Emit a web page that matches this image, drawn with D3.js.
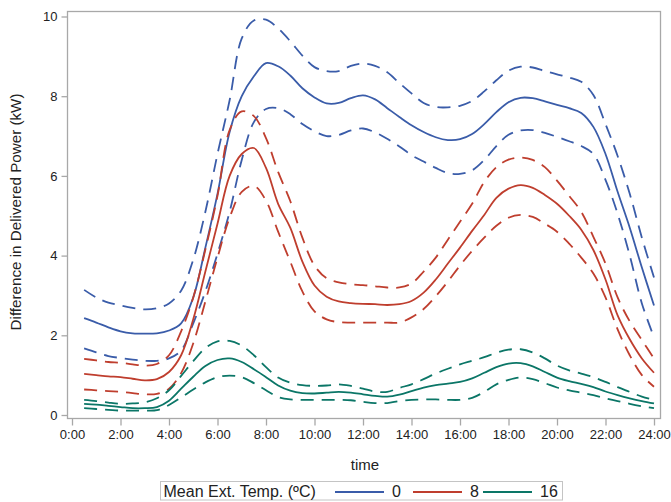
<!DOCTYPE html>
<html>
<head>
<meta charset="utf-8">
<script src="https://cdn.jsdelivr.net/npm/d3@7"></script>
<style>
  body { margin: 0; background: #fff; }
  text { font-family: "Liberation Sans", Arial, sans-serif; fill: #222; }
</style>
</head>
<body>
<div id="chart"></div>
<script>
// half-hour grid, 0:30 .. 24:00
const hours = d3.range(0.5, 24.01, 0.5);

// mean ext. temp 0 ºC
const blueMean = [2.43, 2.32, 2.2, 2.1, 2.05, 2.04, 2.05, 2.12, 2.3, 2.95, 4.2, 5.55, 7.1, 8.0, 8.5, 8.83, 8.75, 8.52, 8.2, 7.97, 7.82, 7.83, 7.95, 8.02, 7.92, 7.7, 7.48, 7.27, 7.1, 6.97, 6.9, 6.92, 7.05, 7.3, 7.6, 7.85, 7.96, 7.95, 7.87, 7.78, 7.7, 7.58, 7.23, 6.55, 5.6, 4.7, 3.7, 2.75];
const blueUpper = [3.14, 2.95, 2.82, 2.75, 2.69, 2.65, 2.68, 2.8, 3.12, 3.9, 5.1, 6.55, 7.9, 9.45, 9.9, 9.92, 9.7, 9.38, 9.02, 8.73, 8.63, 8.63, 8.76, 8.82, 8.76, 8.6, 8.33, 8.07, 7.83, 7.73, 7.72, 7.76, 7.88, 8.12, 8.4, 8.64, 8.74, 8.72, 8.63, 8.55, 8.47, 8.36, 8.03, 7.3, 6.5, 5.55, 4.45, 3.45];
const blueLower = [1.67, 1.57, 1.48, 1.43, 1.39, 1.36, 1.36, 1.42, 1.62, 2.3, 3.1, 4.05, 5.1, 6.4, 7.35, 7.68, 7.7, 7.55, 7.3, 7.12, 7.0, 7.03, 7.14, 7.19, 7.09, 6.93, 6.74, 6.52, 6.36, 6.2, 6.07, 6.05, 6.14, 6.4, 6.75, 7.03, 7.14, 7.15, 7.08, 6.98, 6.87, 6.75, 6.55, 5.9, 5.05, 4.0, 2.8, 1.95];

// mean ext. temp 8 ºC
const redMean = [1.03, 1.0, 0.97, 0.95, 0.91, 0.87, 0.9, 1.08, 1.5, 2.4, 3.6, 4.8, 6.0, 6.55, 6.7, 6.2, 5.3, 4.7, 3.85, 3.25, 2.97, 2.85, 2.81, 2.79, 2.78, 2.76, 2.78, 2.86, 3.07, 3.4, 3.8, 4.2, 4.62, 5.02, 5.45, 5.68, 5.77, 5.7, 5.52, 5.3, 5.0, 4.65, 4.14, 3.4, 2.5, 1.9, 1.42, 1.06];
const redUpper = [1.41, 1.37, 1.33, 1.31, 1.27, 1.24, 1.28, 1.5, 2.1, 2.95, 4.15, 5.5, 7.15, 7.62, 7.5, 6.95, 6.1, 5.37, 4.45, 3.75, 3.43, 3.33, 3.28, 3.26, 3.23, 3.2, 3.2, 3.3, 3.6, 3.95, 4.4, 4.85, 5.3, 5.85, 6.22, 6.41, 6.46, 6.4, 6.22, 5.88, 5.5, 5.1, 4.47, 3.8, 2.95, 2.35, 1.88, 1.42];
const redLower = [0.64, 0.62, 0.6, 0.58, 0.55, 0.52, 0.53, 0.66, 1.05, 1.8, 2.85, 3.95, 4.95, 5.6, 5.75, 5.38, 4.6, 3.85, 3.1, 2.6, 2.4, 2.33, 2.32, 2.32, 2.32, 2.32, 2.32, 2.45, 2.66, 2.98, 3.35, 3.75, 4.12, 4.45, 4.75, 4.95, 5.02, 4.97, 4.8, 4.6, 4.3, 3.95, 3.55, 2.95, 2.15, 1.5, 1.0, 0.71];

// mean ext. temp 16 ºC
const greenMean = [0.28, 0.26, 0.23, 0.2, 0.17, 0.17, 0.2, 0.36, 0.66, 0.96, 1.23, 1.38, 1.42, 1.33, 1.15, 0.95, 0.74, 0.61, 0.55, 0.54, 0.56, 0.58, 0.56, 0.52, 0.48, 0.46, 0.51, 0.6, 0.69, 0.75, 0.79, 0.83, 0.92, 1.06, 1.2, 1.29, 1.3, 1.22, 1.08, 0.94, 0.85, 0.78, 0.7, 0.59, 0.5, 0.42, 0.35, 0.29];
const greenUpper = [0.38, 0.35, 0.31, 0.28, 0.29, 0.32, 0.42, 0.62, 0.98, 1.35, 1.68, 1.85, 1.86, 1.74, 1.5, 1.2, 0.94, 0.81, 0.75, 0.73, 0.74, 0.77, 0.73, 0.66, 0.59, 0.58, 0.68, 0.77, 0.9, 1.04, 1.16, 1.27, 1.36, 1.45, 1.56, 1.64, 1.65, 1.57, 1.42, 1.24, 1.12, 1.04, 0.95, 0.83, 0.7, 0.58, 0.46, 0.38];
const greenLower = [0.17, 0.15, 0.13, 0.11, 0.11, 0.11, 0.12, 0.25, 0.44, 0.64, 0.82, 0.95, 0.99, 0.95, 0.8, 0.62, 0.45, 0.39, 0.38, 0.38, 0.38, 0.38, 0.37, 0.33, 0.3, 0.3, 0.35, 0.38, 0.39, 0.39, 0.38, 0.38, 0.43, 0.58, 0.77, 0.88, 0.94, 0.9, 0.8, 0.69, 0.62, 0.56, 0.5, 0.42, 0.35, 0.28, 0.22, 0.17];

const groupLabels = ["0", "8", "16"];
const groupColors = ["#3a5ca9", "#bf3e2e", "#0b7667"];
const xTickHours = d3.range(0, 25, 2);
const yTicks = [0, 2, 4, 6, 8, 10];

const groups = [
  { mean: blueMean, upper: blueUpper, lower: blueLower },
  { mean: redMean, upper: redUpper, lower: redLower },
  { mean: greenMean, upper: greenUpper, lower: greenLower }
];

const W = 671, H = 502;
const frame = { left: 67.5, right: 660.5, top: 11.5, bottom: 418.5 };

const svg = d3.select("#chart").append("svg")
  .attr("width", W).attr("height", H);

const x = d3.scaleLinear().domain([0, 24]).range([72, 654]);
const y = d3.scaleLinear().domain([0, 10]).range([415, 16.5]);

// plot frame
svg.append("rect")
  .attr("x", frame.left).attr("y", frame.top)
  .attr("width", frame.right - frame.left)
  .attr("height", frame.bottom - frame.top)
  .attr("fill", "none")
  .attr("stroke", "#a8a8a8")
  .attr("stroke-width", 1.3);

// y axis
const yAxis = svg.append("g")
  .attr("transform", `translate(${frame.left},0)`)
  .call(d3.axisLeft(y).tickValues(yTicks).tickSize(6).tickPadding(4));
yAxis.select(".domain").remove();
yAxis.selectAll("line").attr("stroke", "#a8a8a8").attr("stroke-width", 1.3);
yAxis.selectAll("text").attr("font-size", 13).attr("fill", "#222");

// x axis
const xAxis = svg.append("g")
  .attr("transform", `translate(0,${frame.bottom})`)
  .call(d3.axisBottom(x).tickValues(xTickHours).tickSize(7).tickPadding(4)
    .tickFormat(d => d + ":00"));
xAxis.select(".domain").remove();
xAxis.selectAll("line").attr("stroke", "#a8a8a8").attr("stroke-width", 1.3);
xAxis.selectAll("text").attr("font-size", 13).attr("fill", "#222");

// axis titles
svg.append("text")
  .attr("x", (frame.left + frame.right) / 2 + 1)
  .attr("y", 470)
  .attr("text-anchor", "middle")
  .attr("font-size", 15)
  .text("time");

svg.append("text")
  .attr("transform", "translate(21,212) rotate(-90)")
  .attr("text-anchor", "middle")
  .attr("font-size", 15.2)
  .text("Difference in Delivered Power (kW)");

// curves
const line = d3.line()
  .x((d, i) => x(hours[i]))
  .y(d => y(d))
  .curve(d3.curveCatmullRom);

const plot = svg.append("g");
groups.forEach((g, k) => {
  [g.upper, g.lower].forEach(band => {
    plot.append("path")
      .attr("d", line(band))
      .attr("fill", "none")
      .attr("stroke", groupColors[k])
      .attr("stroke-width", 1.8)
      .attr("stroke-dasharray", "13,8");
  });
  plot.append("path")
    .attr("d", line(g.mean))
    .attr("fill", "none")
    .attr("stroke", groupColors[k])
    .attr("stroke-width", 1.8);
});

// legend
const legend = svg.append("g");
legend.append("rect")
  .attr("x", 160.5).attr("y", 481.5)
  .attr("width", 402).attr("height", 18.5)
  .attr("fill", "#fff")
  .attr("stroke", "#c4c4c4");
legend.append("text")
  .attr("x", 163.5).attr("y", 497)
  .attr("font-size", 16)
  .text("Mean Ext. Temp. (ºC)");

const legendX = [335, 413, 483];
groupLabels.forEach((lab, k) => {
  legend.append("line")
    .attr("x1", legendX[k]).attr("x2", legendX[k] + 49)
    .attr("y1", 492).attr("y2", 492)
    .attr("stroke", groupColors[k])
    .attr("stroke-width", 2);
  legend.append("text")
    .attr("x", legendX[k] + 57).attr("y", 497)
    .attr("font-size", 16)
    .text(lab);
});
</script>
</body>
</html>
